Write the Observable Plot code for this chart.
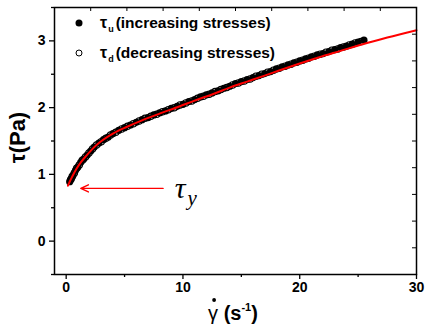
<!DOCTYPE html>
<html><head><meta charset="utf-8">
<script src="https://cdn.jsdelivr.net/npm/d3@7"></script>
<script src="https://cdn.jsdelivr.net/npm/@observablehq/plot@0.6"></script>
<style>body{margin:0;background:#fff}svg{display:block}</style>
</head><body><div id="chart"></div>
<script>
// increasing stresses (filled circles)
const upShear = [0.3,0.45,0.6,0.8,1.0,1.25,1.5,1.8,2.1,2.4,2.8,3.2,3.6,4.0,4.5,5.0,5.5,6.0,6.5,7.0,7.5,8.0,8.5,9.0,9.5,10.0,10.5,11.0,11.5,12.0,12.5,13.0,13.5,14.0,14.5,15.0,15.5,16.0,16.5,17.0,17.5,18.0,18.5,19.0,19.5,20.0,20.5,21.0,21.5,22.0,22.5,23.0,23.5,24.0,24.5,25.0,25.5];
const upStress = [0.89,0.94,0.99,1.06,1.11,1.18,1.23,1.29,1.35,1.41,1.47,1.52,1.56,1.61,1.66,1.70,1.74,1.78,1.82,1.85,1.89,1.92,1.95,1.99,2.02,2.05,2.09,2.12,2.16,2.19,2.22,2.25,2.29,2.32,2.36,2.39,2.42,2.45,2.48,2.51,2.54,2.58,2.61,2.64,2.67,2.70,2.73,2.76,2.79,2.81,2.84,2.87,2.90,2.92,2.95,2.98,3.01];
// decreasing stresses (open circles)
const downShear = [0.38,0.52,0.7,0.9,1.12,1.38,1.65,1.95,2.25,2.6,3.0,3.4,3.8,4.25,4.75,5.25,5.75,6.25,6.75,7.25,7.75,8.25,8.75,9.25,9.75,10.25,10.75,11.25,11.75,12.25,12.75,13.25,13.75,14.25,14.75,15.25,15.75,16.25,16.75,17.25,17.75,18.25,18.75,19.25,19.75,20.25,20.75,21.25,21.75,22.25,22.75,23.25,23.75,24.25,24.75,25.25];
const downStress = [0.92,0.97,1.02,1.09,1.14,1.21,1.26,1.32,1.38,1.44,1.49,1.54,1.59,1.63,1.68,1.72,1.76,1.80,1.84,1.87,1.90,1.94,1.97,2.00,2.04,2.07,2.10,2.14,2.17,2.20,2.24,2.27,2.30,2.34,2.37,2.40,2.43,2.47,2.50,2.53,2.56,2.59,2.62,2.65,2.68,2.71,2.74,2.77,2.80,2.83,2.86,2.88,2.91,2.94,2.97,2.99];
// fitted curve (red)
const fitShear = [0.15,0.3,0.5,0.87,1.3,1.73,2.3,2.88,4.0,5.17,6.5,8.0,9.74,11.0,12.6,14.0,15.5,17.0,18.3,20.0,21.6,23.5,25.4,27.5,30];
const fitStress = [0.83,0.89,0.96,1.08,1.19,1.28,1.39,1.48,1.61,1.71,1.81,1.91,2.02,2.105,2.205,2.30,2.39,2.48,2.56,2.66,2.75,2.85,2.95,3.05,3.16];

const xTicks = [0,10,20,30];
const xMinorTicks = [5,15,25];
const yTicks = [0,1,2,3];
const yMinorTicks = [-0.5,0.5,1.5,2.5,3.5];
const topTicks = [2.1,5.2,8.3,11.4,14.5,17.6,20.7,23.8,26.9];
const rightTicks = [-0.1,0.3,0.7,1.1,1.5,1.9,2.3,2.7,3.1];

const legendSymbols = ["τ","τ"];
const legendSubs = ["u","d"];
const legendLabels = ["(increasing stresses)","(decreasing stresses)"];

// yield stress annotation (data units)
const yieldArrowX1 = [8.3], yieldArrowX2 = [1.25], yieldArrowY = [0.79];
const yieldLabelX = [9.3], yieldLabelY = [0.65];
const yieldSubX = [10.4], yieldSubY = [0.545];

const up = upShear.map((x,i)=>({x, y: upStress[i]}));
const down = downShear.map((x,i)=>({x, y: downStress[i]}));
const fit = fitShear.map((x,i)=>({x, y: fitStress[i]}));

const W = 426, H = 326, mL = 54, mR = 10, mT = 7, mB = 52;
const frameW = W - mL - mR, frameH = H - mT - mB;
const sans = "'Liberation Sans', Arial, sans-serif";
const serif = "'Liberation Serif', 'Times New Roman', serif";

const plot = Plot.plot({
  width: W, height: H,
  marginLeft: mL, marginRight: mR, marginTop: mT, marginBottom: mB,
  x: {domain: [-1, 30]},
  y: {domain: [-0.5, 3.5]},
  style: {fontFamily: sans, fontSize: "14px", fontWeight: "bold", color: "black", background: "white"},
  marks: [
    Plot.axisX(xTicks, {tickSize: 5, tickPadding: 3, label: null, strokeWidth: 1.3, tickFormat: d => String(d)}),
    Plot.axisX(xMinorTicks, {tickSize: 3, tickFormat: () => "", label: null, strokeWidth: 1.3}),
    Plot.axisY(yTicks, {tickSize: 5, tickPadding: 4, label: null, strokeWidth: 1.3, tickFormat: d => String(d)}),
    Plot.axisY(yMinorTicks, {tickSize: 3, tickFormat: () => "", label: null, strokeWidth: 1.3}),
    Plot.ruleX(topTicks, {x: d => d, insetBottom: frameH - 4, stroke: "black", strokeWidth: 1}),
    Plot.ruleY(rightTicks, {y: d => d, insetLeft: frameW - 4, stroke: "black", strokeWidth: 1}),
    Plot.dot(up, {x: "x", y: "y", r: 3.6, fill: "black", stroke: "none"}),
    Plot.dot(down, {x: "x", y: "y", r: 3.2, fill: "none", stroke: "black", strokeWidth: 1.1}),
    Plot.line(fit, {x: "x", y: "y", stroke: "#ff0000", strokeWidth: 2, curve: "monotone-x"}),
    Plot.arrow(yieldArrowX1, {x1: d => d, x2: (d,i) => yieldArrowX2[i], y1: (d,i) => yieldArrowY[i], y2: (d,i) => yieldArrowY[i], stroke: "#ff0000", strokeWidth: 1.4, headLength: 9, headAngle: 50}),
    Plot.text(["τ"], {x: () => yieldLabelX[0], y: () => yieldLabelY[0], text: d => d, textAnchor: "start", lineAnchor: "bottom", fontFamily: serif, fontStyle: "italic", fontWeight: "normal", fontSize: 30, fill: "black"}),
    Plot.text(["y"], {x: () => yieldSubX[0], y: () => yieldSubY[0], text: d => d, textAnchor: "start", lineAnchor: "bottom", fontFamily: serif, fontStyle: "italic", fontWeight: "normal", fontSize: 21, fill: "black"}),
    Plot.frame({stroke: "black", strokeWidth: 1.5})
  ]
});

const svg = d3.select(plot);
const x = plot.scale("x"), y = plot.scale("y");

// legend
const rowBase = [mT + 21, mT + 51];
const rowDot = [mT + 16, mT + 46];
svg.append("circle").attr("cx", mL + 25).attr("cy", rowDot[0]).attr("r", 3.5).attr("fill", "black");
svg.append("circle").attr("cx", mL + 25).attr("cy", rowDot[1]).attr("r", 3).attr("fill", "white").attr("stroke", "black").attr("stroke-width", 1);
legendLabels.forEach((lab, i) => {
  const t = svg.append("text")
    .attr("x", mL + 46).attr("y", rowBase[i])
    .attr("text-anchor", "start")
    .attr("font-family", sans)
    .attr("font-weight", "bold").attr("fill", "black");
  t.append("tspan").attr("font-size", 16).text(legendSymbols[i]);
  t.append("tspan").attr("font-size", 9).attr("dy", 4).attr("dx", 1).text(legendSubs[i]);
  t.append("tspan").attr("font-size", 15.5).attr("dy", -4).attr("dx", 2).text(lab);
});

// y axis title
svg.append("text")
  .attr("transform", `translate(17.5,${(y.range[0] + y.range[1]) / 2 - 3}) rotate(-90)`)
  .attr("text-anchor", "middle").attr("dy", "0.35em")
  .attr("font-family", sans)
  .attr("font-size", 22).attr("font-weight", "bold").attr("fill", "black")
  .text("τ(Pa)");

// x axis title
const xt = svg.append("text")
  .attr("x", (x.range[0] + x.range[1]) / 2 - 2).attr("y", H - 6)
  .attr("text-anchor", "middle")
  .attr("font-family", sans)
  .attr("font-weight", "bold").attr("fill", "black").attr("font-size", 20);
xt.append("tspan").attr("font-weight", "normal").text("γ");
xt.append("tspan").text(" (s");
xt.append("tspan").attr("font-size", 11).attr("dy", -9).text("-1");
xt.append("tspan").attr("dy", 9).text(")");

document.getElementById("chart").append(plot);

// dot above gamma
const ext = xt.node().getExtentOfChar(0);
svg.append("circle").attr("cx", ext.x + ext.width / 2 + 1).attr("cy", H - 26).attr("r", 1.9).attr("fill", "black");
</script>
</body></html>
